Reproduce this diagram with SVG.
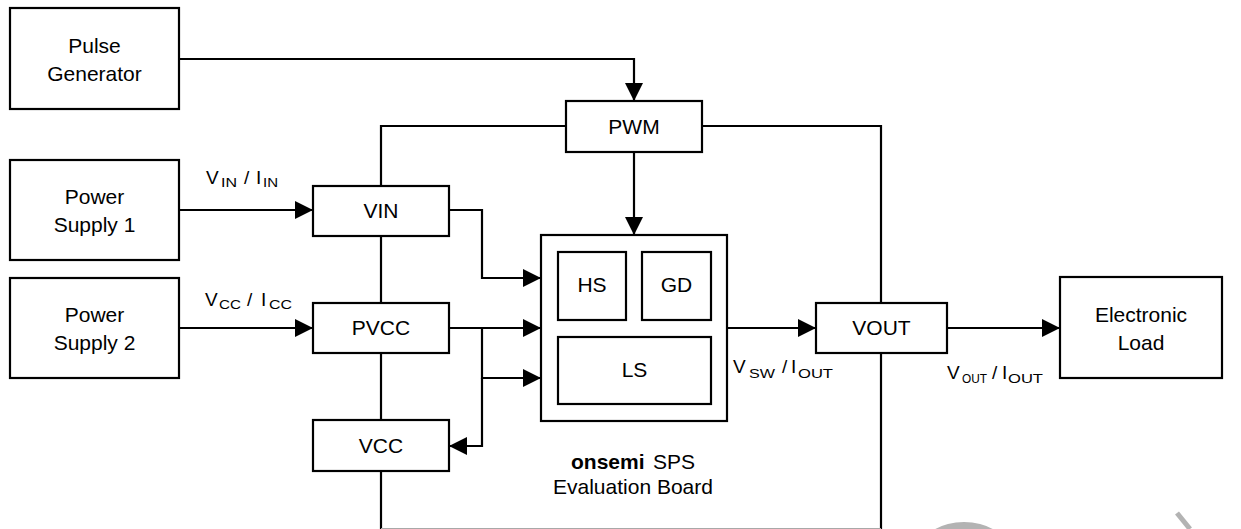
<svg xmlns="http://www.w3.org/2000/svg" width="1241" height="529" viewBox="0 0 1241 529">
<style>
.box{fill:#fff;stroke:#000;stroke-width:2.2}
.w{fill:none;stroke:#000;stroke-width:2.2}
text{font-family:"Liberation Sans",Arial,sans-serif;font-size:21px;fill:#000}
.c{text-anchor:middle}
.l{font-size:19px}
.s{font-size:13px}
</style>
<defs>
<marker id="ah" viewBox="0 0 18 18" refX="18" refY="9" markerWidth="18" markerHeight="18" markerUnits="userSpaceOnUse" orient="auto">
<path d="M0,0 L18,9 L0,18 Z" fill="#000"/>
</marker>
</defs>
<rect width="1241" height="529" fill="#fff"/>
<g id="watermark" fill="#b3b3b3" stroke="none">
<ellipse cx="964" cy="548" rx="42" ry="26"/>
<line x1="1177" y1="513" x2="1190" y2="529" stroke="#b3b3b3" stroke-width="5"/>
</g>
<g id="connectors">
<polyline class="w" points="179,59 634,59 634,101" marker-end="url(#ah)"/>
<line class="w" x1="179" y1="210" x2="313" y2="210" marker-end="url(#ah)"/>
<line class="w" x1="179" y1="328" x2="313" y2="328" marker-end="url(#ah)"/>
<polyline class="w" points="381,186 381,126 566,126"/>
<polyline class="w" points="702,126 881,126 881,303"/>
<line class="w" x1="381" y1="236" x2="381" y2="303"/>
<line class="w" x1="381" y1="353" x2="381" y2="420"/>
<line class="w" x1="634" y1="152" x2="634" y2="235" marker-end="url(#ah)"/>
<polyline class="w" points="449,210 482,210 482,278 541,278" marker-end="url(#ah)"/>
<line class="w" x1="449" y1="328" x2="541" y2="328" marker-end="url(#ah)"/>
<polyline class="w" points="482,328 482,378 541,378" marker-end="url(#ah)"/>
<polyline class="w" points="482,378 482,446 449,446" marker-end="url(#ah)"/>
<line class="w" x1="727" y1="328" x2="816" y2="328" marker-end="url(#ah)"/>
<line class="w" x1="947" y1="328" x2="1060" y2="328" marker-end="url(#ah)"/>
<line class="w" x1="381" y1="471" x2="381" y2="529"/>
<line class="w" x1="881" y1="353" x2="881" y2="529"/>
<line x1="381" y1="528.5" x2="881" y2="528.5" stroke="#a8a8a8" stroke-width="1.2"/>
</g>
<g id="pulse-generator">
<rect class="box" x="10" y="8" width="169" height="101"/>
<text class="c" x="94.5" y="53">Pulse</text>
<text class="c" x="94.5" y="81">Generator</text>
</g>
<g id="power-supply-1">
<rect class="box" x="10" y="160" width="169" height="100"/>
<text class="c" x="94.5" y="204">Power</text>
<text class="c" x="94.5" y="232">Supply 1</text>
</g>
<g id="power-supply-2">
<rect class="box" x="10" y="278" width="169" height="100"/>
<text class="c" x="94.5" y="322">Power</text>
<text class="c" x="94.5" y="350">Supply 2</text>
</g>
<g id="label-vin">
<text class="l" x="206" y="184">V<tspan class="s" x="221" y="187" textLength="16" lengthAdjust="spacingAndGlyphs">IN</tspan><tspan x="244" y="184">/</tspan><tspan x="256" y="184">I</tspan><tspan class="s" x="263" y="187" textLength="15" lengthAdjust="spacingAndGlyphs">IN</tspan></text>
</g>
<g id="label-vcc">
<text class="l" x="205" y="306">V<tspan class="s" x="219" y="309" textLength="22" lengthAdjust="spacingAndGlyphs">CC</tspan><tspan x="247" y="306">/</tspan><tspan x="261" y="306">I</tspan><tspan class="s" x="269" y="309" textLength="23" lengthAdjust="spacingAndGlyphs">CC</tspan></text>
</g>
<g id="pwm">
<rect class="box" x="566" y="101" width="136" height="51"/>
<text class="c" x="634" y="134">PWM</text>
</g>
<g id="vin">
<rect class="box" x="313" y="186" width="136" height="50"/>
<text class="c" x="381" y="218">VIN</text>
</g>
<g id="pvcc">
<rect class="box" x="313" y="303" width="136" height="50"/>
<text class="c" x="381" y="335">PVCC</text>
</g>
<g id="vcc">
<rect class="box" x="313" y="420" width="136" height="51"/>
<text class="c" x="381" y="453">VCC</text>
</g>
<g id="sps">
<rect class="box" x="541" y="235" width="186" height="186"/>
<rect class="box" x="558" y="252" width="68" height="68"/>
<text class="c" x="592" y="292">HS</text>
<rect class="box" x="642" y="252" width="69" height="68"/>
<text class="c" x="676.5" y="292">GD</text>
<rect class="box" x="558" y="337" width="153" height="67"/>
<text class="c" x="634.5" y="377">LS</text>
<text x="571" y="469"><tspan font-weight="bold">onsemi</tspan><tspan x="653">SPS</tspan></text>
<text class="c" x="633" y="494">Evaluation Board</text>
</g>
<g id="label-vsw">
<text class="l" x="733" y="373">V<tspan class="s" x="749" y="378" textLength="26" lengthAdjust="spacingAndGlyphs">SW</tspan><tspan x="782" y="373">/</tspan><tspan x="791" y="373">I</tspan><tspan class="s" x="798" y="378" textLength="35" lengthAdjust="spacingAndGlyphs">OUT</tspan></text>
</g>
<g id="vout">
<rect class="box" x="816" y="303" width="131" height="50"/>
<text class="c" x="881.5" y="335">VOUT</text>
</g>
<g id="label-vout">
<text class="l" x="947" y="379">V<tspan class="s" x="962" y="383" textLength="25" lengthAdjust="spacingAndGlyphs">OUT</tspan><tspan x="992" y="379">/</tspan><tspan x="1002" y="379">I</tspan><tspan class="s" x="1008" y="383" textLength="35" lengthAdjust="spacingAndGlyphs">OUT</tspan></text>
</g>
<g id="electronic-load">
<rect class="box" x="1060" y="277" width="162" height="101"/>
<text class="c" x="1141" y="322">Electronic</text>
<text class="c" x="1141" y="350">Load</text>
</g>
</svg>
